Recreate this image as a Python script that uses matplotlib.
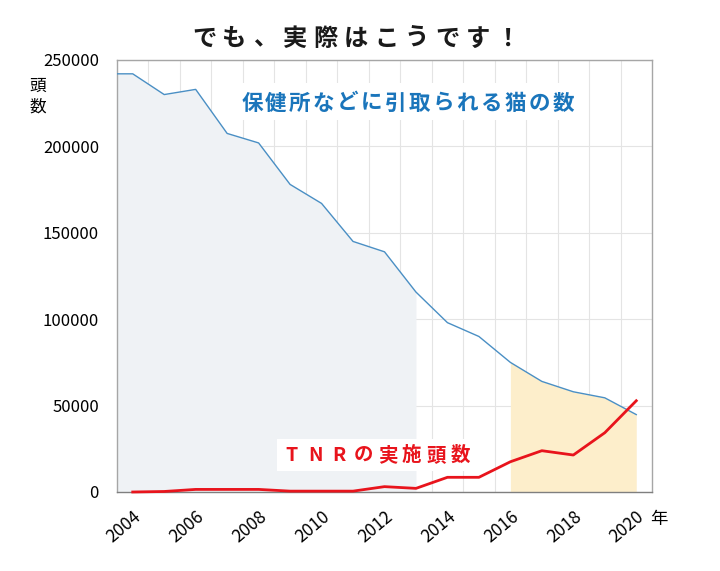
import numpy as np
import matplotlib
matplotlib.use("Agg")
import matplotlib.pyplot as plt
from matplotlib.patches import Rectangle

plt.rcParams['font.family'] = ['Noto Sans CJK JP', 'DejaVu Sans']

# data
years = np.arange(2004, 2021)
hikitori = [242000, 230000, 233000, 207500, 202000, 178000, 167000, 145000, 139000,
            115700, 98000, 90000, 75000, 64000, 58000, 54500, 44800]
tnr = [0, 300, 1500, 1500, 1500, 500, 500, 500, 3100, 2100, 8500, 8500, 17500,
       23900, 21400, 34300, 52800]

TITLE = "でも、実際はこうです！"
BLUE_LABEL = "保健所などに引取られる猫の数"
RED_LABEL = "TNRの実施頭数"

BLUE = "#4a8fc4"
RED = "#e8141c"
W, H = 720, 571

fig = plt.figure(figsize=(7.2, 5.71), dpi=100)
ax = fig.add_axes([117/W, 1-492/H, (652-117)/W, (492-60)/H])


def tracked(s, first, last, base, **kw):
    # letter-spaced text: one glyph per position, in figure pixels
    xs = np.linspace(first, last, len(s))
    for ch, x in zip(s, xs):
        fig.text(x/W, 1-base/H, ch, ha="center", va="baseline", zorder=5, **kw)


x0, x1 = 2003.5, 2020.5
ax.set_xlim(x0, x1)
ax.set_ylim(0, 250000)

# shaded areas under the blue line
hk = np.array(hikitori)
m1 = years <= 2013
ax.fill_between(np.r_[x0, years[m1]], 0, np.r_[hk[0], hk[m1]], color="#eff2f5", lw=0, zorder=2)
m2 = years >= 2016
ax.fill_between(years[m2], 0, hk[m2], color="#fdeecb", lw=0, zorder=2)

ax.plot(np.r_[x0, years], np.r_[hk[0], hk], color=BLUE, lw=1.0, zorder=4)
ax.plot(years, tnr, color=RED, lw=2.0, zorder=5, clip_on=False)

# grid
ax.set_xticks(np.arange(2004.5, 2020.5, 1), minor=True)
ax.set_xticks(np.arange(2004, 2021, 2))
ax.set_yticks(np.arange(0, 250001, 50000))
ax.grid(which="minor", axis="x", color="#e4e4e4", lw=0.8, zorder=1)
ax.grid(which="major", axis="y", color="#e4e4e4", lw=0.8, zorder=1)
ax.set_axisbelow(True)
ax.tick_params(which="both", length=0)
ax.tick_params(axis="y", labelsize=12, pad=13)
ax.tick_params(axis="x", labelsize=12.5, pad=11)
for lab in ax.get_xticklabels():
    lab.set_rotation(40)
    lab.set_ha("right")
    lab.set_va("top")
    lab.set_rotation_mode("anchor")

for s in ax.spines.values():
    s.set_color("#a6a6a6")
    s.set_linewidth(1.0)
ax.spines["bottom"].set_color("#7f7f7f")

# white boxes behind the two labels
for bx0, by0, bx1, by1 in [(237, 83, 580, 120), (277, 439, 473, 471)]:
    fig.patches.append(Rectangle((bx0/W, 1-by1/H), (bx1-bx0)/W, (by1-by0)/H,
                                 transform=fig.transFigure, fc="white", ec="none", zorder=2))

tracked(BLUE_LABEL, 252, 563, 109.5, color="#1a75bb", fontsize=15.5, fontweight="bold")
tracked(RED_LABEL, 291, 460, 461, color=RED, fontsize=14, fontweight="bold")
tracked(TITLE, 204, 508, 45.5, color="#1a1a1a", fontsize=17.5, fontweight="bold")

fig.text(38/W, 1-97/H, "頭\n数", fontsize=12, ha="center", va="center", linespacing=1.3)
fig.text(659/W, 1-519/H, "年", fontsize=12.5, ha="center", va="center")

fig.savefig("out.png", dpi=100)
